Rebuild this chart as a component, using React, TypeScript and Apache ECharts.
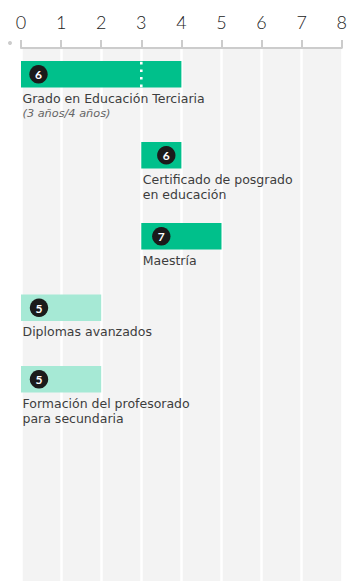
import React, { useEffect, useRef } from "react";
import * as echarts from "echarts";

// ---- data ----
const CATEGORIES = [
  "Grado en Educación Terciaria",
  "Certificado de posgrado en educación",
  "Maestría",
  "Diplomas avanzados",
  "Formación del profesorado para secundaria",
];
const LABEL_LINES = [
  ["Grado en Educación Terciaria"],
  ["Certificado de posgrado", "en educación"],
  ["Maestría"],
  ["Diplomas avanzados"],
  ["Formación del profesorado", "para secundaria"],
];
const NOTES = ["(3 años/4 años)", "", "", "", ""];
const STARTS = [0, 3, 3, 0, 0];
const ENDS = [4, 4, 5, 2, 2];
const LEVELS = [6, 6, 7, 5, 5];
const MARKERS: (number | null)[] = [3, null, null, null, null];
const X_TICKS = [0, 1, 2, 3, 4, 5, 6, 7, 8];

// ---- style ----
const DARK = "#00c08b";
const LIGHT = "#a6e9d5";
const BAR_H = 26.5;
const BADGE_DX = [17.5, 25, 20, 18, 18];
const FONT = "Lato, 'Noto Sans', sans-serif";
const LABEL_FONT = "'DejaVu Sans', 'Noto Sans', sans-serif";
const LINE_H = 15;
const GRID_TOP = 48;
const GRID_H = 581 - GRID_TOP;

// layout of rows (in pixels from grid top) derived from the number of label lines
const lineCounts = LABEL_LINES.map((l, i) => l.length + (NOTES[i] ? 1 : 0));
const rowPos: number[] = [];
{
  let p = 13;
  for (let i = 0; i < CATEGORIES.length; i++) {
    rowPos.push(p);
    p += 62 + 9.5 * lineCounts[i];
  }
}

export default function App() {
  const ref = useRef<HTMLDivElement>(null);
  useEffect(() => {
    if (!ref.current) return;
    const chart = echarts.init(ref.current, undefined, { renderer: "svg" });
    const data = CATEGORIES.map((c, i) => ({
      name: c,
      value: [STARTS[i], ENDS[i], rowPos[i]],
    }));
    chart.setOption({
      animation: false,
      grid: { left: 21, right: 6, top: GRID_TOP, bottom: 0, containLabel: false },
      xAxis: {
        type: "value",
        position: "top",
        offset: 5,
        min: X_TICKS[0],
        max: X_TICKS[X_TICKS.length - 1],
        interval: 1,
        axisLine: { show: true, lineStyle: { color: "#cccccc", width: 2 } },
        axisTick: { show: true, length: 8, lineStyle: { color: "#cccccc", width: 2 } },
        axisLabel: {
          color: "#222",
          fontSize: 18,
          fontWeight: 300,
          fontFamily: FONT,
          margin: 12,
        },
        splitLine: { show: true, lineStyle: { color: "#ffffff", width: 2.5 } },
        splitArea: { show: true, areaStyle: { color: ["#f3f3f3"] } },
      },
      yAxis: {
        type: "value",
        show: false,
        inverse: true,
        min: 0,
        max: GRID_H,
        splitLine: { show: false },
      },
      graphic: [
        {
          type: "circle",
          shape: { cx: 10, cy: 43, r: 2 },
          style: { fill: "#cccccc" },
          silent: true,
        },
      ],
      series: [
        {
          type: "custom",
          encode: { x: [0, 1], y: 2 },
          data,
          clip: false,
          renderItem: (params: any, api: any) => {
            const i = params.dataIndex;
            const p0 = api.coord([api.value(0), api.value(2)]);
            const p1 = api.coord([api.value(1), api.value(2)]);
            const x0 = p0[0];
            const x1 = p1[0];
            const top = p0[1];
            const children: any[] = [
              {
                type: "rect",
                shape: { x: x0, y: top, width: x1 - x0, height: BAR_H },
                style: { fill: LEVELS[i] >= 6 ? DARK : LIGHT },
              },
            ];
            const m = MARKERS[i];
            if (m != null) {
              const mx = api.coord([m, api.value(2)])[0];
              children.push({
                type: "line",
                shape: { x1: mx, y1: top + 0.8, x2: mx, y2: top + BAR_H },
                style: { stroke: "#ffffff", lineWidth: 2.6, lineDash: [2.6, 5], lineCap: "butt" },
              });
            }
            const cx = x0 + BADGE_DX[i];
            const cy = top + BAR_H / 2;
            children.push({
              type: "circle",
              shape: { cx, cy, r: 9.2 },
              style: { fill: "#1b1b1b" },
            });
            children.push({
              type: "text",
              style: {
                text: String(LEVELS[i]),
                x: cx,
                y: cy + 0.5,
                align: "center",
                verticalAlign: "middle",
                fill: "#ffffff",
                fontSize: 12,
                fontWeight: "bold",
                fontFamily: FONT,
              },
            });
            const parts = LABEL_LINES[i].map((l) => `{a|${l}}`);
            if (NOTES[i]) parts.push(`{n|${NOTES[i]}}`);
            children.push({
              type: "text",
              style: {
                text: parts.join("\n"),
                x: x0 + 1.5,
                y: top + 37 - LINE_H / 2,
                align: "left",
                verticalAlign: "top",
                rich: {
                  a: {
                    fill: "#3d3d3d",
                    fontSize: 12.5,
                    lineHeight: LINE_H,
                    fontFamily: LABEL_FONT,
                  },
                  n: {
                    fill: "#666666",
                    fontSize: 11.3,
                    lineHeight: LINE_H,
                    fontStyle: "italic",
                    fontFamily: LABEL_FONT,
                  },
                },
              },
            });
            return { type: "group", children };
          },
        },
      ],
    });
    return () => chart.dispose();
  }, []);
  return (
    <div
      ref={ref}
      style={{ position: "fixed", left: 0, top: 0, width: 350, height: 581, background: "#ffffff" }}
    />
  );
}
